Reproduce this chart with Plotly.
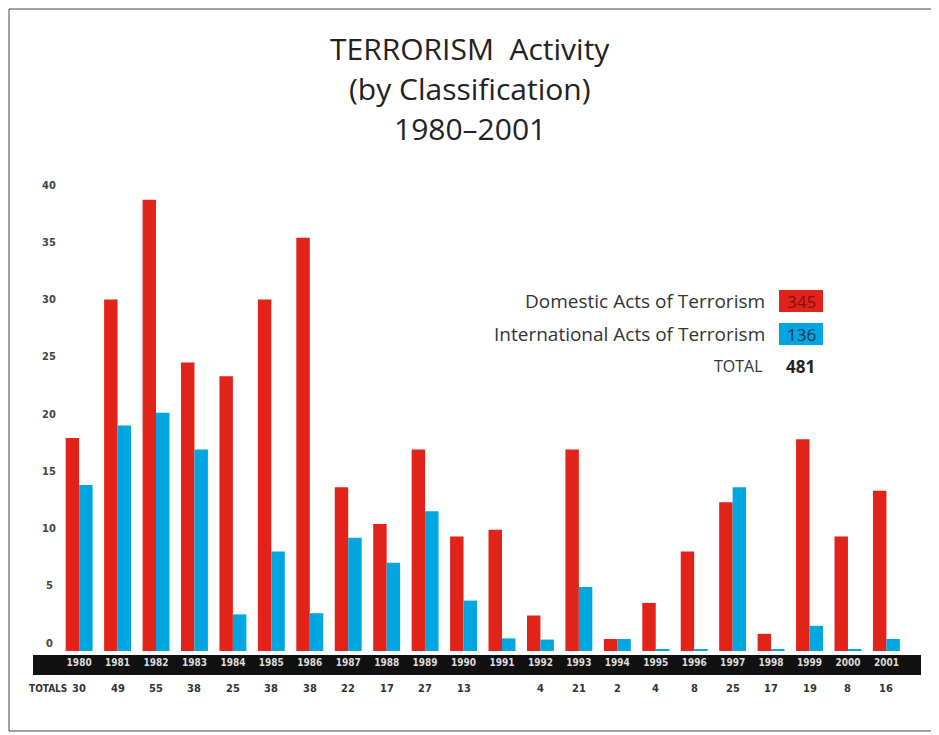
import plotly.graph_objects as go

years = [str(y) for y in range(1980, 2002)]
domestic = [18.6, 30.7, 39.4, 25.2, 24.0, 30.7, 36.1, 14.3, 11.1, 17.6, 10.0,
            10.6, 3.1, 17.6, 1.05, 4.2, 8.7, 13.0, 1.5, 18.5, 10.0, 14.0]
international = [14.5, 19.7, 20.8, 17.6, 3.2, 8.7, 3.3, 9.9, 7.7, 12.2, 4.4,
                 1.1, 1.0, 5.6, 1.05, 0.15, 0.15, 14.3, 0.1, 2.2, 0.15, 1.05]
totals = ["30", "49", "55", "38", "25", "38", "38", "22", "17", "27", "13",
          "", "4", "21", "2", "4", "8", "25", "17", "19", "8", "16"]
y_ticks = [0, 5, 10, 15, 20, 25, 30, 35, 40]
legend_names = ["Domestic Acts of Terrorism", "International Acts of Terrorism"]
legend_counts = ["345", "136"]
grand_total = "481"

RED = "#E2231A"
BLUE = "#00A6E0"
OFF = 8  # page body margin
W, H = 939 - OFF, 735 - OFF
# plot area in screen pixels
SX0, SX1, SY0, SY1 = 33, 921, 170, 651
L, R, T, B = SX0 - OFF, (W + OFF) - SX1, SY0 - OFF, (H + OFF) - SY1
PW, PH = SX1 - SX0, SY1 - SY0


def px(x):
    return (x - SX0) / PW


def py(y):
    return (SY1 - y) / PH


NARROW = "Liberation Sans Narrow, DejaVu Sans Condensed, Arial Narrow, sans-serif"
LIGHT = "Open Sans, Noto Sans, sans-serif"

fig = go.Figure()
fig.add_trace(go.Bar(x=years, y=domestic, name=legend_names[0], marker_color=RED,
                     marker_line_width=0))
fig.add_trace(go.Bar(x=years, y=international, name=legend_names[1], marker_color=BLUE,
                     marker_line_width=0))

shapes = [
    dict(type="rect", xref="paper", yref="paper", x0=0, x1=1, y0=py(675), y1=py(655),
         fillcolor="#111111", line_width=0, layer="below"),
    dict(type="rect", xref="paper", yref="paper", x0=px(9), x1=px(935), y0=py(731), y1=py(9),
         fillcolor="rgba(0,0,0,0)", line=dict(color="#444444", width=1)),
]

annotations = []
for i, t in enumerate(["TERRORISM  Activity", "(by Classification)", "1980\u20132001"]):
    annotations.append(dict(text=t, xref="paper", yref="paper", x=px(470), y=py(48 + 40 * i),
                            xanchor="center", yanchor="middle", showarrow=False,
                            font=dict(family=LIGHT, size=30, color="#222222")))

for v in y_ticks:
    annotations.append(dict(text="<b>%d</b>" % v, xref="paper", yref="y", x=px(49), y=v,
                            yshift=8, xanchor="center", yanchor="middle", showarrow=False,
                            font=dict(family=NARROW, size=11, color="#444444")))

for i, tot in enumerate(totals):
    if tot:
        annotations.append(dict(text="<b>" + tot + "</b>", x=i, xref="x", yref="paper",
                                y=py(688), showarrow=False, xanchor="center", yanchor="middle",
                                font=dict(family=NARROW, size=11, color="#333333")))
annotations.append(dict(text="<b>TOTALS</b>", xref="paper", yref="paper", x=px(48), y=py(688),
                        showarrow=False, xanchor="center", yanchor="middle",
                        font=dict(family=NARROW, size=10, color="#333333")))

leg_rows = [(legend_names[0], legend_counts[0], RED, "#7a1410", 301),
            (legend_names[1], legend_counts[1], BLUE, "#0b3a55", 334)]
for name, cnt, col, tcol, yy in leg_rows:
    annotations.append(dict(text=name, xref="paper", yref="paper", x=px(767), y=py(yy),
                            xanchor="right", yanchor="middle", showarrow=False,
                            font=dict(family=LIGHT, size=19, color="#333333")))
    shapes.append(dict(type="rect", xref="paper", yref="paper", x0=px(779), x1=px(823),
                       y0=py(yy + 11), y1=py(yy - 11), fillcolor=col, line_width=0))
    annotations.append(dict(text=cnt, xref="paper", yref="paper", x=px(801), y=py(yy),
                            xanchor="center", yanchor="middle", showarrow=False,
                            font=dict(family=LIGHT, size=17, color=tcol)))
annotations.append(dict(text="TOTAL", xref="paper", yref="paper", x=px(765), y=py(366),
                        xanchor="right", yanchor="middle", showarrow=False,
                        font=dict(family=LIGHT, size=16, color="#333333")))
annotations.append(dict(text="<b>" + grand_total + "</b>", xref="paper", yref="paper",
                        x=px(784), y=py(366), xanchor="left", yanchor="middle", showarrow=False,
                        font=dict(family=LIGHT, size=17, color="#222222")))

fig.update_layout(
    width=W, height=H,
    margin=dict(l=L, r=R, t=T, b=B, autoexpand=False),
    paper_bgcolor="white", plot_bgcolor="white",
    barmode="group", bargap=0.30, bargroupgap=0.0,
    showlegend=False,
    shapes=shapes, annotations=annotations,
    xaxis=dict(type="category", range=[-1.2, 21.9], showgrid=False, zeroline=False,
               showline=False, ticks="", ticklabelstandoff=4,
               tickprefix="<b>", ticksuffix="</b>",
               tickfont=dict(family=NARROW, size=10, color="#dddddd")),
    yaxis=dict(range=[0, PH / 11.45], showgrid=False, zeroline=False,
               showline=False, ticks="", showticklabels=False),
)

fig.write_html("out.html")
